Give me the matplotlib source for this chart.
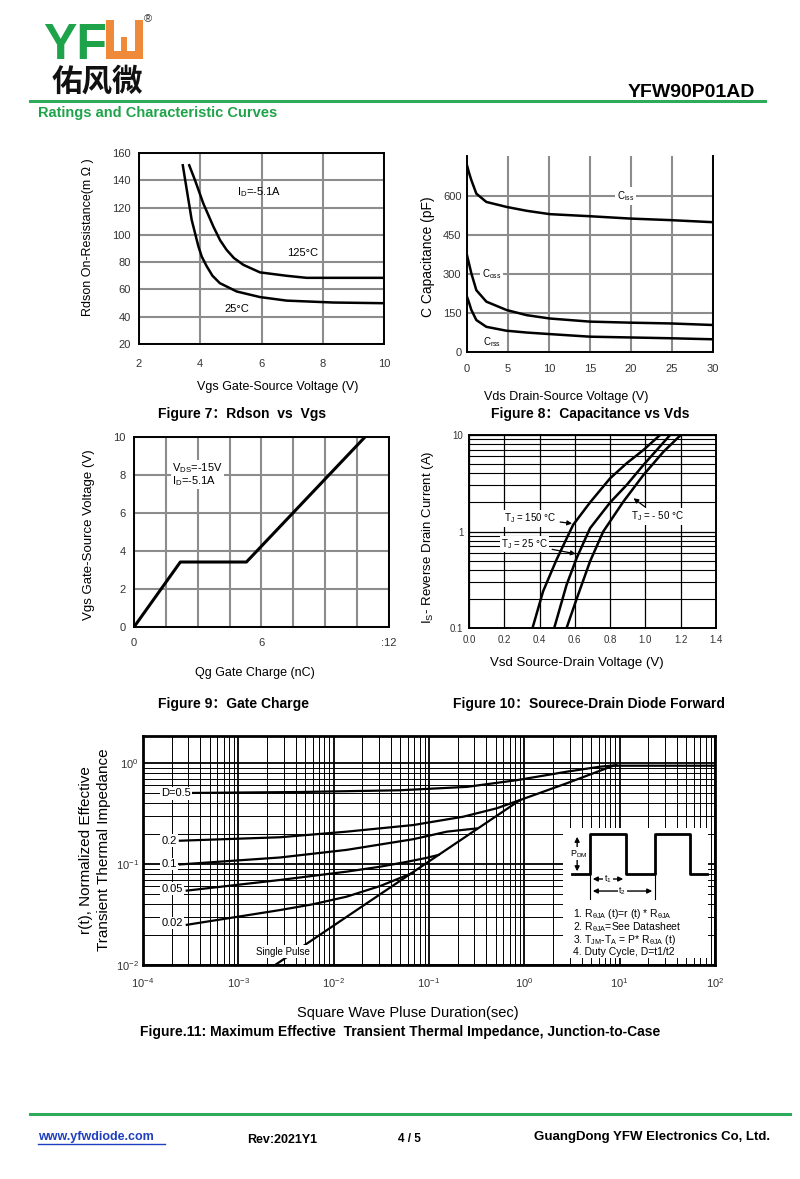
import matplotlib
matplotlib.use('Agg')
import matplotlib.pyplot as plt
import numpy as np
from matplotlib.patches import Rectangle
from matplotlib.lines import Line2D
from matplotlib.ticker import FixedLocator, NullFormatter, LogLocator

plt.rcParams['font.family'] = ['Liberation Sans', 'Noto Sans CJK SC', 'DejaVu Sans']
plt.rcParams['mathtext.fontset'] = 'custom'
plt.rcParams['mathtext.rm'] = 'Liberation Sans'
plt.rcParams['mathtext.it'] = 'Liberation Sans'
plt.rcParams['mathtext.bf'] = 'Liberation Sans:bold'

W, H = 800, 1179
GREEN = '#1fa34a'
ORANGE = '#ef8a3a'
GRID_GRAY = '#8c8c8c'

# Figure 7: Rdson vs Vgs
vgs_25 = [3.43, 3.56, 3.72, 3.94, 4.05, 4.21, 4.40, 4.64, 5.19, 5.95, 6.82, 8.34, 10.0]
rds_25 = [151, 133, 111, 91.5, 84, 77, 70, 64.6, 58.5, 54.4, 51.8, 50.4, 49.9]
vgs_125 = [3.64, 3.83, 4.10, 4.43, 4.65, 4.86, 5.10, 5.41, 5.95, 6.82, 7.47, 10.0]
rds_125 = [151, 140, 123, 106, 96, 89, 83, 78, 72.5, 70, 68.5, 68.5]

# Figure 8: capacitance vs Vds
vds = [0, 0.25, 0.53, 1.14, 2.36, 4.8, 7.26, 10.1, 15, 19.9, 24.8, 30]
ciss = [719, 690, 662, 610, 578, 559, 544, 531, 523, 514, 508, 500]
coss = [373, 340, 303, 238, 194, 162, 142, 129, 117, 113, 110, 104]
crss = [213, 190, 162, 123, 97, 82, 75, 69, 59, 56, 53, 49]

# Figure 9: gate charge
qg = [0, 2.18, 5.29, 10.87]
vgs_q = [0, 3.42, 3.42, 10]

# Figure 10: source-drain diode forward
vsd_150 = [0.36, 0.42, 0.496, 0.59, 0.686, 0.80, 0.894, 0.989, 1.083]
is_150 = [0.1, 0.24, 0.51, 1.17, 2.0, 3.56, 5.1, 7.0, 10]
vsd_25 = [0.483, 0.553, 0.61, 0.686, 0.80, 0.894, 0.989, 1.14]
is_25 = [0.1, 0.28, 0.53, 1.08, 2.0, 3.04, 4.9, 10]
vsd_m50 = [0.553, 0.61, 0.686, 0.761, 0.875, 0.989, 1.102, 1.20]
is_m50 = [0.1, 0.2, 0.49, 1.0, 2.04, 3.86, 6.7, 10]

# Figure 11: transient thermal impedance
t_single = [2.43e-3, 0.904, 2.79, 8.6, 100]
r_single = [0.01, 0.43, 0.63, 0.94, 0.94]
t_d05 = [3.11e-4, 4.4e-3, 4.98e-2, 0.249, 0.834, 2.79, 6.24, 9.3]
r_d05 = [0.505, 0.516, 0.537, 0.58, 0.676, 0.82, 0.92, 0.95]
t_d02 = [2.44e-4, 2.74e-3, 1.37e-2, 6.84e-2, 0.229, 0.513, 0.904]
r_d02 = [0.17, 0.184, 0.209, 0.243, 0.294, 0.356, 0.43]
t_d01 = [2.44e-4, 2.74e-3, 1.37e-2, 6.84e-2, 0.154, 0.316]
r_d01 = [0.099, 0.116, 0.138, 0.176, 0.209, 0.225]
t_d005 = [2.88e-4, 2.74e-3, 1.37e-2, 3.07e-2, 5.85e-2, 9.44e-2, 0.126]
r_d005 = [0.0545, 0.0695, 0.084, 0.094, 0.105, 0.115, 0.123]
t_d002 = [2.88e-4, 2.74e-3, 6.12e-3, 1.37e-2, 3.07e-2, 6.84e-2]
r_d002 = [0.025, 0.035, 0.040, 0.0475, 0.0605, 0.082]
duty_labels = ['D=0.5', '0.2', '0.1', '0.05', '0.02']
duty_label_y = [0.5, 0.17, 0.1, 0.057, 0.026]


def px_axes(fig, left, top, right, bottom):
    return fig.add_axes([left / W, 1 - bottom / H, (right - left) / W, (bottom - top) / H])


def px_text(fig, x, y, s, **kw):
    return fig.text(x / W, 1 - y / H, s, **kw)


def px_line(fig, xs, ys, **kw):
    fig.lines.append(Line2D([x / W for x in xs], [1 - y / H for y in ys],
                            transform=fig.transFigure, **kw))


def style_box(ax, lw=1.4):
    for sp in ax.spines.values():
        sp.set_color('black')
        sp.set_linewidth(lw)
    ax.tick_params(length=0, labelsize=8, colors='#333333')


fig = plt.figure(figsize=(W / 100, H / 100), dpi=100)

# ---------- header ----------
px_text(fig, 43, 59, 'YF', fontsize=36, fontweight='bold', color=GREEN, va='baseline',
        family=['Liberation Sans Narrow', 'Liberation Sans'])
for x0, y0, x1, y1 in [(106, 20, 114, 59), (135, 20, 143, 59), (106, 51, 143, 59), (121, 37, 127, 59)]:
    fig.patches.append(Rectangle((x0 / W, 1 - y1 / H), (x1 - x0) / W, (y1 - y0) / H,
                                 transform=fig.transFigure, facecolor=ORANGE, edgecolor='none'))
px_text(fig, 148, 19, '®', fontsize=8, color='#333333', ha='center', va='center')
px_text(fig, 97, 82, '佑风微', fontsize=22, fontweight='bold', color='#111111',
        family=['Noto Sans CJK SC'], ha='center', va='center')
px_text(fig, 755, 97, 'YFW90P01AD', fontsize=14, fontweight='bold', ha='right', va='baseline')
px_line(fig, [30, 765], [101, 101], color='#2eaa5c', lw=2.2)
px_text(fig, 38, 117, 'Ratings and Characteristic Curves', fontsize=10.5, fontweight='bold',
        color=GREEN, va='baseline')

# ---------- Figure 7 ----------
ax7 = px_axes(fig, 139, 153, 384, 344)
ax7.plot(vgs_25, rds_25, color='black', lw=1.8)
ax7.plot(vgs_125, rds_125, color='black', lw=1.8)
ax7.set_xlim(2, 10)
ax7.set_ylim(20, 160)
ax7.set_xticks([2, 4, 6, 8, 10])
ax7.set_yticks(np.arange(20, 161, 20))
ax7.grid(True, color=GRID_GRAY, lw=1.5)
ax7.set_axisbelow(True)
style_box(ax7)
ax7.tick_params(axis='x', pad=11)
ax7.tick_params(axis='y', pad=6)
ax7.text(5.2, 131, 'I$_D$=-5.1A', fontsize=8, va='center', ha='left')
ax7.text(6.85, 86.5, '125°C', fontsize=8, va='center', ha='left')
ax7.text(4.8, 46, '25°C', fontsize=8, va='center', ha='left')
px_text(fig, 278, 387, 'Vgs Gate-Source Voltage (V)', fontsize=9, ha='center', va='center')
px_text(fig, 88, 237, 'Rdson On-Resistance(m Ω )', fontsize=9, rotation=90, ha='center', va='center')
px_text(fig, 242, 414, 'Figure 7：Rdson  vs  Vgs', fontsize=10, fontweight='bold', ha='center', va='center')

# ---------- Figure 8 ----------
ax8 = px_axes(fig, 467, 156, 713, 352)
ax8.plot(vds, ciss, color='black', lw=1.8)
ax8.plot(vds, coss, color='black', lw=1.8)
ax8.plot(vds, crss, color='black', lw=1.8)
ax8.set_xlim(0, 30)
ax8.set_ylim(0, 755)
ax8.set_xticks(np.arange(0, 31, 5))
ax8.set_yticks([0, 150, 300, 450, 600])
ax8.grid(True, color=GRID_GRAY, lw=1.5)
ax8.set_axisbelow(True)
style_box(ax8)
ax8.spines['top'].set_visible(False)
ax8.tick_params(axis='x', pad=9)
ax8.tick_params(axis='y', pad=4)
ax8.text(19.3, 600, 'C$_{iss}$', fontsize=7, ha='center', va='center',
         bbox=dict(facecolor='white', edgecolor='none', pad=1.5))
ax8.text(3.0, 300, 'C$_{oss}$', fontsize=7, ha='center', va='center',
         bbox=dict(facecolor='white', edgecolor='none', pad=1.5))
ax8.text(3.0, 40, 'C$_{rss}$', fontsize=7, ha='center', va='center')
px_text(fig, 566, 397, 'Vds Drain-Source Voltage (V)', fontsize=9, ha='center', va='center')
px_text(fig, 428, 257, 'C Capacitance (pF)', fontsize=10, rotation=90, ha='center', va='center')
px_text(fig, 590, 414, 'Figure 8：Capacitance vs Vds', fontsize=10, fontweight='bold', ha='center', va='center')

# ---------- Figure 9 ----------
ax9 = px_axes(fig, 134, 437, 389, 627)
ax9.plot(qg, vgs_q, color='black', lw=2.2)
ax9.set_xlim(0, 12)
ax9.set_ylim(0, 10)
ax9.set_xticks(np.arange(0, 12.1, 1.5))
ax9.set_xticklabels(['0', '', '', '', '6', '', '', '', ':12'])
ax9.set_yticks(np.arange(0, 11, 2))
ax9.grid(True, color=GRID_GRAY, lw=1.5)
ax9.set_axisbelow(True)
style_box(ax9)
ax9.tick_params(axis='x', pad=8)
ax9.tick_params(axis='y', pad=6)
ax9.text(1.8, 8.35, 'V$_{DS}$=-15V', fontsize=8, va='center', ha='left',
         bbox=dict(facecolor='white', edgecolor='none', pad=1))
ax9.text(1.8, 7.7, 'I$_D$=-5.1A', fontsize=8, va='center', ha='left',
         bbox=dict(facecolor='white', edgecolor='none', pad=1))
px_text(fig, 255, 673, 'Qg Gate Charge (nC)', fontsize=9, ha='center', va='center')
px_text(fig, 89, 535, 'Vgs Gate-Source Voltage (V)', fontsize=9.5, rotation=90, ha='center', va='center')
px_text(fig, 233, 704, 'Figure 9：Gate Charge', fontsize=10, fontweight='bold', ha='center', va='center')

# ---------- Figure 10 ----------
ax10 = px_axes(fig, 469, 435, 716, 628)
ax10.plot(vsd_150, is_150, color='black', lw=1.8)
ax10.plot(vsd_25, is_25, color='black', lw=1.8)
ax10.plot(vsd_m50, is_m50, color='black', lw=1.8)
ax10.set_yscale('log')
ax10.set_xlim(0, 1.4)
ax10.set_ylim(0.1, 10)
ax10.set_xticks(np.arange(0, 1.41, 0.2))
ax10.set_xticklabels([f'{v:.1f}' for v in np.arange(0, 1.41, 0.2)])
ax10.yaxis.set_major_locator(FixedLocator([0.1, 1, 10]))
ax10.set_yticklabels(['0.1', '1', '10'])
ax10.yaxis.set_minor_locator(LogLocator(base=10, subs=np.arange(2, 10)))
ax10.yaxis.set_minor_formatter(NullFormatter())
ax10.grid(True, which='major', color='black', lw=0.9)
ax10.grid(True, which='minor', axis='y', color='black', lw=0.8)
ax10.set_axisbelow(True)
style_box(ax10)
ax10.tick_params(which='both', length=0)
ax10.tick_params(axis='x', pad=5, labelsize=7)
ax10.tick_params(axis='y', pad=4, labelsize=7)
lbl = dict(fontsize=7, ha='center', va='center', bbox=dict(facecolor='white', edgecolor='none', pad=1))
arr = dict(arrowstyle='-|>', color='black', lw=0.9, mutation_scale=7)
ax10.annotate('T$_J$ = 150 °C', xy=(0.60, 1.2), xytext=(0.345, 1.37), arrowprops=arr, **lbl)
ax10.annotate('T$_J$ = 25 °C', xy=(0.62, 0.58), xytext=(0.315, 0.74), arrowprops=arr, **lbl)
ax10.annotate('T$_J$ = - 50 °C', xy=(0.92, 2.3), xytext=(1.07, 1.43), arrowprops=arr, **lbl)
px_text(fig, 577, 663, 'Vsd Source-Drain Voltage (V)', fontsize=9.5, ha='center', va='center')
px_text(fig, 428, 537, 'I$_S$- Reverse Drain Current (A)', fontsize=9.5, rotation=90, ha='center', va='center')
px_text(fig, 589, 704, 'Figure 10：Sourece-Drain Diode Forward', fontsize=10, fontweight='bold',
        ha='center', va='center')

# ---------- Figure 11 ----------
ax11 = px_axes(fig, 143, 736, 715, 965)
for t, r in [(t_single, r_single), (t_d05, r_d05), (t_d02, r_d02), (t_d01, r_d01),
             (t_d005, r_d005), (t_d002, r_d002)]:
    ax11.plot(t, r, color='black', lw=1.6)
ax11.set_xscale('log')
ax11.set_yscale('log')
ax11.set_xlim(1e-4, 1e2)
ax11.set_ylim(0.01, 1.85)
ax11.xaxis.set_major_locator(LogLocator(base=10, numticks=10))
ax11.xaxis.set_minor_locator(LogLocator(base=10, subs=np.arange(2, 10), numticks=20))
ax11.yaxis.set_major_locator(LogLocator(base=10, numticks=10))
ax11.yaxis.set_minor_locator(LogLocator(base=10, subs=np.arange(2, 10), numticks=20))
ax11.xaxis.set_minor_formatter(NullFormatter())
ax11.yaxis.set_minor_formatter(NullFormatter())
ax11.grid(True, which='major', color='black', lw=1.3)
ax11.grid(True, which='minor', color='black', lw=0.7)
ax11.set_axisbelow(True)
style_box(ax11, lw=2)
ax11.tick_params(which='both', length=0)
ax11.tick_params(axis='x', pad=8, labelsize=8)
ax11.tick_params(axis='y', pad=3, labelsize=8)
for s, y in zip(duty_labels, duty_label_y):
    ax11.text(1.55e-4, y, s, fontsize=8, ha='left', va='center',
              bbox=dict(facecolor='white', edgecolor='none', pad=1))
ax11.text(2.95e-3, 0.0135, 'Single Pulse', fontsize=7, ha='center', va='center',
          bbox=dict(facecolor='white', edgecolor='none', pad=1))

# inset schematic (axes fraction)
tr = ax11.transAxes
ax11.add_patch(Rectangle((0.734, 0.03), 0.254, 0.568, transform=tr, facecolor='white',
                         edgecolor='none', zorder=3))
wx = [0.75, 0.7815, 0.7815, 0.8444, 0.8444, 0.8951, 0.8951, 0.9563, 0.9563, 0.986]
wy = [0.397, 0.397, 0.572, 0.572, 0.397, 0.397, 0.572, 0.572, 0.397, 0.397]
ax11.plot(wx, wy, transform=tr, color='black', lw=2, zorder=4)
dbl = dict(arrowstyle='<|-|>', color='black', lw=1, mutation_scale=7)
ax11.annotate('', xy=(0.759, 0.572), xytext=(0.759, 0.397), xycoords=tr, textcoords=tr,
              arrowprops=dbl, zorder=4)
ax11.text(0.761, 0.485, 'P$_{DM}$', transform=tr, fontsize=6.5, ha='center', va='center', zorder=5,
          bbox=dict(facecolor='white', edgecolor='none', pad=0.5))
ax11.annotate('', xy=(0.7815, 0.3755), xytext=(0.8444, 0.3755), xycoords=tr, textcoords=tr,
              arrowprops=dbl, zorder=4)
ax11.text(0.813, 0.3755, 't$_1$', transform=tr, fontsize=6.5, ha='center', va='center', zorder=5,
          bbox=dict(facecolor='white', edgecolor='none', pad=0.5))
ax11.annotate('', xy=(0.7815, 0.323), xytext=(0.8951, 0.323), xycoords=tr, textcoords=tr,
              arrowprops=dbl, zorder=4)
ax11.text(0.838, 0.323, 't$_2$', transform=tr, fontsize=6.5, ha='center', va='center', zorder=5,
          bbox=dict(facecolor='white', edgecolor='none', pad=0.5))
for fx in (0.7815, 0.8951):
    ax11.plot([fx, fx], [0.397, 0.29], transform=tr, color='black', lw=0.8, zorder=4)
notes = ['1. R$_{\\theta JA}$ (t)=r (t) * R$_{\\theta JA}$',
         '2. R$_{\\theta JA}$=See Datasheet',
         '3. T$_{JM}$-T$_A$ = P* R$_{\\theta JA}$ (t)',
         '4. Duty Cycle, D=t1/t2']
for i, s in enumerate(notes):
    ax11.text(0.752, 0.223 - i * 0.056, s, transform=tr, fontsize=7.5, ha='left', va='center', zorder=5)

px_text(fig, 408, 1013, 'Square Wave Pluse Duration(sec)', fontsize=10.5, ha='center', va='center')
px_text(fig, 86, 850, 'r(t), Normalized Effective', fontsize=11, rotation=90, ha='center', va='center')
px_text(fig, 104, 850, 'Transient Thermal Impedance', fontsize=11, rotation=90, ha='center', va='center')
px_text(fig, 400, 1032, 'Figure.11: Maximum Effective  Transient Thermal Impedance, Junction-to-Case',
        fontsize=10, fontweight='bold', ha='center', va='center')

# ---------- footer ----------
px_line(fig, [30, 790], [1114, 1114], color='#2eaa5c', lw=2.2)
px_text(fig, 38, 1137, 'www.yfwdiode.com', fontsize=9, fontweight='bold', color='#1f3fbf', va='center')
px_line(fig, [38, 165], [1144, 1144], color='#1f3fbf', lw=1)
px_text(fig, 247, 1140, 'Rev:2021Y1', fontsize=9, fontweight='bold', va='center')
px_text(fig, 398, 1139, '4 / 5', fontsize=8.5, fontweight='bold', va='center')
px_text(fig, 770, 1137, 'GuangDong YFW Electronics Co, Ltd.', fontsize=9.5, fontweight='bold',
        ha='right', va='center')

fig.savefig('out.png', dpi=100, facecolor='white')
plt.close(fig)
